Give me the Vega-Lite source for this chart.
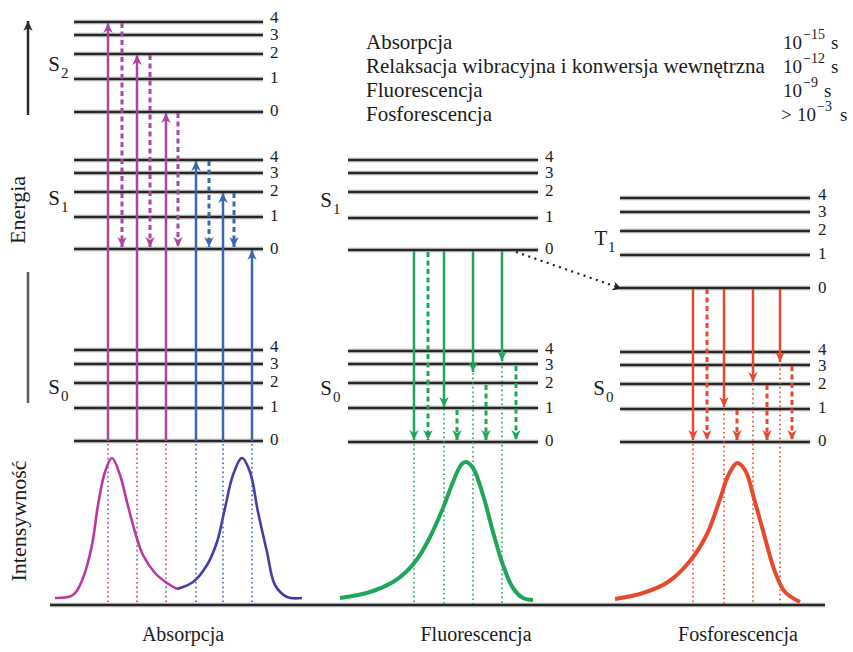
{
"$schema": "https://vega.github.io/schema/vega-lite/v6.json",
"width": 853, "height": 652,
"autosize": {"type": "fit", "contains": "padding"},
"padding": 0,
"background": "white",
"config": {"view": {"stroke": null}},
"datasets": {
"levels": [
{"x1":74,"x2":263,"y":22},{"x1":74,"x2":263,"y":35},{"x1":74,"x2":263,"y":54},{"x1":74,"x2":263,"y":79},{"x1":74,"x2":263,"y":112},
{"x1":74,"x2":263,"y":160},{"x1":74,"x2":263,"y":173},{"x1":74,"x2":263,"y":192},{"x1":74,"x2":263,"y":217},{"x1":74,"x2":263,"y":249},
{"x1":74,"x2":263,"y":350},{"x1":74,"x2":263,"y":364},{"x1":74,"x2":263,"y":383},{"x1":74,"x2":263,"y":408},{"x1":74,"x2":263,"y":441},
{"x1":348,"x2":538,"y":160},{"x1":348,"x2":538,"y":173},{"x1":348,"x2":538,"y":192},{"x1":348,"x2":538,"y":218},{"x1":348,"x2":538,"y":250},
{"x1":348,"x2":538,"y":351},{"x1":348,"x2":538,"y":364},{"x1":348,"x2":538,"y":383},{"x1":348,"x2":538,"y":408},{"x1":348,"x2":538,"y":442},
{"x1":620,"x2":810,"y":198},{"x1":620,"x2":810,"y":212},{"x1":620,"x2":810,"y":231},{"x1":620,"x2":810,"y":255},{"x1":620,"x2":810,"y":288},
{"x1":620,"x2":810,"y":352},{"x1":620,"x2":810,"y":365},{"x1":620,"x2":810,"y":384},{"x1":620,"x2":810,"y":409},{"x1":620,"x2":810,"y":442},
{"x1":50,"x2":825,"y":605}
],
"levelnums": [
{"x":270,"y":18,"t":"4"},{"x":270,"y":35,"t":"3"},{"x":270,"y":53,"t":"2"},{"x":270,"y":78,"t":"1"},{"x":270,"y":111,"t":"0"},
{"x":270,"y":157,"t":"4"},{"x":270,"y":173,"t":"3"},{"x":270,"y":191,"t":"2"},{"x":270,"y":216,"t":"1"},{"x":270,"y":249,"t":"0"},
{"x":270,"y":347,"t":"4"},{"x":270,"y":364,"t":"3"},{"x":270,"y":382,"t":"2"},{"x":270,"y":407,"t":"1"},{"x":270,"y":440,"t":"0"},
{"x":545,"y":157,"t":"4"},{"x":545,"y":173,"t":"3"},{"x":545,"y":191,"t":"2"},{"x":545,"y":217,"t":"1"},{"x":545,"y":249,"t":"0"},
{"x":545,"y":349,"t":"4"},{"x":545,"y":365,"t":"3"},{"x":545,"y":383,"t":"2"},{"x":545,"y":408,"t":"1"},{"x":545,"y":441,"t":"0"},
{"x":818,"y":195,"t":"4"},{"x":818,"y":212,"t":"3"},{"x":818,"y":230,"t":"2"},{"x":818,"y":254,"t":"1"},{"x":818,"y":288,"t":"0"},
{"x":818,"y":350,"t":"4"},{"x":818,"y":366,"t":"3"},{"x":818,"y":384,"t":"2"},{"x":818,"y":408,"t":"1"},{"x":818,"y":441,"t":"0"}
],
"arrows": [
{"x":28,"y1":115,"y2":21,"s":"dark","st":"solid","dir":"up"},
{"x":28,"y1":403,"y2":272,"s":"gray","st":"line","dir":"none"},
{"x":108,"y1":441,"y2":23,"s":"mag","st":"solid","dir":"up"},
{"x":137,"y1":441,"y2":55,"s":"mag","st":"solid","dir":"up"},
{"x":166,"y1":441,"y2":113,"s":"mag","st":"solid","dir":"up"},
{"x":122,"y1":23,"y2":247,"s":"mag","st":"dashed","dir":"down"},
{"x":150,"y1":55,"y2":247,"s":"mag","st":"dashed","dir":"down"},
{"x":178,"y1":113,"y2":247,"s":"mag","st":"dashed","dir":"down"},
{"x":196,"y1":441,"y2":161,"s":"blue","st":"solid","dir":"up"},
{"x":223,"y1":441,"y2":193,"s":"blue","st":"solid","dir":"up"},
{"x":252,"y1":441,"y2":250,"s":"blue","st":"solid","dir":"up"},
{"x":209,"y1":161,"y2":247,"s":"blue","st":"dashed","dir":"down"},
{"x":234,"y1":193,"y2":247,"s":"blue","st":"dashed","dir":"down"},
{"x":108,"y1":444,"y2":604,"s":"mag","st":"dotted","dir":"none"},
{"x":137,"y1":444,"y2":604,"s":"mag","st":"dotted","dir":"none"},
{"x":166,"y1":444,"y2":604,"s":"mag","st":"dotted","dir":"none"},
{"x":196,"y1":444,"y2":604,"s":"blue","st":"dotted","dir":"none"},
{"x":223,"y1":444,"y2":604,"s":"blue","st":"dotted","dir":"none"},
{"x":252,"y1":444,"y2":604,"s":"blue","st":"dotted","dir":"none"},
{"x":414,"y1":251,"y2":440,"s":"green","st":"solid","dir":"down"},
{"x":444,"y1":251,"y2":407,"s":"green","st":"solid","dir":"down"},
{"x":473,"y1":251,"y2":372,"s":"green","st":"solid","dir":"down"},
{"x":502,"y1":251,"y2":361,"s":"green","st":"solid","dir":"down"},
{"x":428,"y1":252,"y2":440,"s":"green","st":"dashed","dir":"down"},
{"x":457,"y1":410,"y2":440,"s":"green","st":"dashed","dir":"down"},
{"x":486,"y1":385,"y2":440,"s":"green","st":"dashed","dir":"down"},
{"x":516,"y1":366,"y2":440,"s":"green","st":"dashed","dir":"down"},
{"x":414,"y1":444,"y2":604,"s":"green","st":"dotted","dir":"none"},
{"x":444,"y1":409,"y2":604,"s":"green","st":"dotted","dir":"none"},
{"x":473,"y1":373,"y2":604,"s":"green","st":"dotted","dir":"none"},
{"x":502,"y1":362,"y2":604,"s":"green","st":"dotted","dir":"none"},
{"x":693,"y1":289,"y2":440,"s":"red","st":"solid","dir":"down"},
{"x":724,"y1":289,"y2":407,"s":"red","st":"solid","dir":"down"},
{"x":753,"y1":289,"y2":382,"s":"red","st":"solid","dir":"down"},
{"x":780,"y1":289,"y2":362,"s":"red","st":"solid","dir":"down"},
{"x":707,"y1":289,"y2":440,"s":"red","st":"dashed","dir":"down"},
{"x":737,"y1":410,"y2":440,"s":"red","st":"dashed","dir":"down"},
{"x":767,"y1":385,"y2":440,"s":"red","st":"dashed","dir":"down"},
{"x":792,"y1":366,"y2":440,"s":"red","st":"dashed","dir":"down"},
{"x":693,"y1":444,"y2":604,"s":"red","st":"dotted","dir":"none"},
{"x":724,"y1":409,"y2":604,"s":"red","st":"dotted","dir":"none"},
{"x":753,"y1":384,"y2":604,"s":"red","st":"dotted","dir":"none"},
{"x":780,"y1":364,"y2":604,"s":"red","st":"dotted","dir":"none"}
],
"isc": [{"x":516,"y":252,"x2":617,"y2":287}],
"iscHead": [{"x":622,"y":289}],
"curves": [
{"x":55,"y":598,"s":"magc"},{"x":73,"y":595,"s":"magc"},{"x":83,"y":578,"s":"magc"},{"x":92,"y":545,"s":"magc"},{"x":98,"y":505,"s":"magc"},{"x":105,"y":472,"s":"magc"},{"x":112,"y":458,"s":"magc"},{"x":120,"y":475,"s":"magc"},{"x":127,"y":502,"s":"magc"},{"x":135,"y":532,"s":"magc"},{"x":143,"y":555,"s":"magc"},{"x":155,"y":573,"s":"magc"},{"x":167,"y":583,"s":"magc"},{"x":177,"y":589,"s":"magc"},
{"x":177,"y":589,"s":"bluec"},{"x":193,"y":582,"s":"bluec"},{"x":207,"y":565,"s":"bluec"},{"x":217,"y":542,"s":"bluec"},{"x":225,"y":508,"s":"bluec"},{"x":233,"y":475,"s":"bluec"},{"x":242,"y":458,"s":"bluec"},{"x":250,"y":472,"s":"bluec"},{"x":258,"y":512,"s":"bluec"},{"x":267,"y":552,"s":"bluec"},{"x":275,"y":585,"s":"bluec"},{"x":287,"y":597,"s":"bluec"},{"x":302,"y":598,"s":"bluec"},
{"x":340,"y":598,"s":"green"},{"x":370,"y":592,"s":"green"},{"x":393,"y":582,"s":"green"},{"x":406,"y":572,"s":"green"},{"x":418,"y":558,"s":"green"},{"x":430,"y":537,"s":"green"},{"x":443,"y":508,"s":"green"},{"x":453,"y":482,"s":"green"},{"x":461,"y":465,"s":"green"},{"x":466,"y":462,"s":"green"},{"x":473,"y":468,"s":"green"},{"x":483,"y":495,"s":"green"},{"x":493,"y":532,"s":"green"},{"x":503,"y":565,"s":"green"},{"x":513,"y":588,"s":"green"},{"x":523,"y":598,"s":"green"},{"x":533,"y":600,"s":"green"},
{"x":615,"y":599,"s":"red"},{"x":643,"y":593,"s":"red"},{"x":668,"y":582,"s":"red"},{"x":690,"y":561,"s":"red"},{"x":707,"y":534,"s":"red"},{"x":720,"y":499,"s":"red"},{"x":728,"y":476,"s":"red"},{"x":737,"y":463,"s":"red"},{"x":745,"y":470,"s":"red"},{"x":755,"y":502,"s":"red"},{"x":765,"y":538,"s":"red"},{"x":775,"y":572,"s":"red"},{"x":785,"y":592,"s":"red"},{"x":800,"y":602,"s":"red"}
],
"legend": [
{"x":366,"y":43,"t":"Absorpcja"},{"x":366,"y":67,"t":"Relaksacja wibracyjna i konwersja wewnętrzna"},{"x":366,"y":91,"t":"Fluorescencja"},{"x":366,"y":115,"t":"Fosforescencja"}
],
"times": [
{"x":783,"y":43,"t":"10"},{"x":831,"y":43,"t":"s"},{"x":783,"y":67,"t":"10"},{"x":831,"y":67,"t":"s"},{"x":783,"y":91,"t":"10"},{"x":824,"y":91,"t":"s"},{"x":781,"y":115,"t":">"},{"x":797,"y":115,"t":"10"},{"x":840,"y":115,"t":"s"}
],
"sup": [{"x":803,"y":35,"t":"−15"},{"x":803,"y":59,"t":"−12"},{"x":803,"y":83,"t":"−9"},{"x":817,"y":107,"t":"−3"}],
"titles": [{"x":183,"y":635,"t":"Absorpcja"},{"x":476,"y":635,"t":"Fluorescencja"},{"x":738,"y":635,"t":"Fosforescencja"}],
"states": [{"x":54,"y":65,"t":"S"},{"x":54,"y":199,"t":"S"},{"x":54,"y":388,"t":"S"},{"x":326,"y":201,"t":"S"},{"x":326,"y":389,"t":"S"},{"x":601,"y":239,"t":"T"},{"x":599,"y":389,"t":"S"}],
"subs": [{"x":61,"y":73,"t":"2"},{"x":61,"y":207,"t":"1"},{"x":61,"y":396,"t":"0"},{"x":333,"y":209,"t":"1"},{"x":333,"y":397,"t":"0"},{"x":608,"y":247,"t":"1"},{"x":606,"y":397,"t":"0"}],
"vert": [{"x":18,"y":210,"t":"Energia"},{"x":19,"y":521,"t":"Intensywność"}]
},
"layer": [
{"data":{"name":"levels"},"mark":{"type":"rule","stroke":"#a8a8a8","strokeWidth":4.5},
 "encoding":{"x":{"field":"x1","type":"quantitative","scale":{"domain":[0,853],"nice":false,"zero":false},"axis":null},"x2":{"field":"x2"},
 "y":{"field":"y","type":"quantitative","scale":{"domain":[0,652],"nice":false,"zero":false,"reverse":true},"axis":null}}},
{"data":{"name":"levels"},"mark":{"type":"rule","stroke":"#262626","strokeWidth":2},
 "encoding":{"x":{"field":"x1","type":"quantitative"},"x2":{"field":"x2"},"y":{"field":"y","type":"quantitative"}}},
{"data":{"name":"curves"},"transform":[{"filter":"datum.s === 'magc' || datum.s === 'bluec'"}],
 "mark":{"type":"line","interpolate":"catmull-rom","strokeWidth":2.6},
 "encoding":{"x":{"field":"x","type":"quantitative"},"y":{"field":"y","type":"quantitative"},
 "color":{"field":"s","type":"nominal","scale":{"domain":["mag","blue","green","red","dark","gray","magc","bluec"],"range":["#a8479b","#3b67b1","#1fa65b","#e6492d","#2b2b2b","#5a5a5a","#bb36a2","#4a3aa3"]},"legend":null}}},
{"data":{"name":"curves"},"transform":[{"filter":"datum.s === 'green' || datum.s === 'red'"}],
 "mark":{"type":"line","interpolate":"catmull-rom","strokeWidth":4},
 "encoding":{"x":{"field":"x","type":"quantitative"},"y":{"field":"y","type":"quantitative"},"color":{"field":"s","type":"nominal","legend":null}}},
{"data":{"name":"arrows"},"transform":[{"filter":"datum.st === 'dotted'"}],
 "mark":{"type":"rule","strokeWidth":1.6,"strokeDash":[1.6,3]},
 "encoding":{"x":{"field":"x","type":"quantitative"},"y":{"field":"y1","type":"quantitative"},"y2":{"field":"y2"},"color":{"field":"s","type":"nominal","legend":null}}},
{"data":{"name":"arrows"},"transform":[{"filter":"datum.st === 'dashed'"}],
 "mark":{"type":"rule","strokeWidth":3,"strokeDash":[5,3.5]},
 "encoding":{"x":{"field":"x","type":"quantitative"},"y":{"field":"y1","type":"quantitative"},"y2":{"field":"y2"},"color":{"field":"s","type":"nominal","legend":null}}},
{"data":{"name":"arrows"},"transform":[{"filter":"datum.st === 'solid' || datum.st === 'line'"}],
 "mark":{"type":"rule","strokeWidth":2.5},
 "encoding":{"x":{"field":"x","type":"quantitative"},"y":{"field":"y1","type":"quantitative"},"y2":{"field":"y2"},"color":{"field":"s","type":"nominal","legend":null}}},
{"data":{"name":"arrows"},"transform":[{"filter":"datum.dir !== 'none'"}],
 "mark":{"type":"point","filled":true,"opacity":1,"size":110,"strokeWidth":0},
 "encoding":{"x":{"field":"x","type":"quantitative"},"y":{"field":"y2","type":"quantitative"},"color":{"field":"s","type":"nominal","legend":null},
 "shape":{"field":"dir","type":"nominal","scale":{"domain":["up","down"],"range":["M0,0L0.9,1.9L0,1.35L-0.9,1.9Z","M0,0L0.9,-1.9L0,-1.35L-0.9,-1.9Z"]},"legend":null}}},
{"data":{"name":"isc"},"mark":{"type":"rule","stroke":"#222222","strokeWidth":2.2,"strokeDash":[2,4.5]},
 "encoding":{"x":{"field":"x","type":"quantitative"},"y":{"field":"y","type":"quantitative"},"x2":{"field":"x2"},"y2":{"field":"y2"}}},
{"data":{"name":"iscHead"},"mark":{"type":"point","filled":true,"opacity":1,"size":100,"strokeWidth":0,"fill":"#222222","angle":19,"shape":"M0,0L-1.9,-0.9L-1.35,0L-1.9,0.9Z"},
 "encoding":{"x":{"field":"x","type":"quantitative"},"y":{"field":"y","type":"quantitative"}}},
{"data":{"name":"levelnums"},"mark":{"type":"text","font":"Liberation Serif","fontSize":17,"align":"left","baseline":"middle","fill":"#1a1a1a"},
 "encoding":{"x":{"field":"x","type":"quantitative"},"y":{"field":"y","type":"quantitative"},"text":{"field":"t"}}},
{"data":{"name":"legend"},"mark":{"type":"text","font":"Liberation Serif","fontSize":21,"align":"left","baseline":"middle","fill":"#1a1a1a"},
 "encoding":{"x":{"field":"x","type":"quantitative"},"y":{"field":"y","type":"quantitative"},"text":{"field":"t"}}},
{"data":{"name":"times"},"mark":{"type":"text","font":"Liberation Serif","fontSize":19,"align":"left","baseline":"middle","fill":"#1a1a1a"},
 "encoding":{"x":{"field":"x","type":"quantitative"},"y":{"field":"y","type":"quantitative"},"text":{"field":"t"}}},
{"data":{"name":"sup"},"mark":{"type":"text","font":"Liberation Serif","fontSize":14,"align":"left","baseline":"middle","fill":"#1a1a1a"},
 "encoding":{"x":{"field":"x","type":"quantitative"},"y":{"field":"y","type":"quantitative"},"text":{"field":"t"}}},
{"data":{"name":"titles"},"mark":{"type":"text","font":"Liberation Serif","fontSize":20,"align":"center","baseline":"middle","fill":"#1a1a1a"},
 "encoding":{"x":{"field":"x","type":"quantitative"},"y":{"field":"y","type":"quantitative"},"text":{"field":"t"}}},
{"data":{"name":"states"},"mark":{"type":"text","font":"Liberation Serif","fontSize":21,"align":"center","baseline":"middle","fill":"#1a1a1a"},
 "encoding":{"x":{"field":"x","type":"quantitative"},"y":{"field":"y","type":"quantitative"},"text":{"field":"t"}}},
{"data":{"name":"subs"},"mark":{"type":"text","font":"Liberation Serif","fontSize":15,"align":"left","baseline":"middle","fill":"#1a1a1a"},
 "encoding":{"x":{"field":"x","type":"quantitative"},"y":{"field":"y","type":"quantitative"},"text":{"field":"t"}}},
{"data":{"name":"vert"},"mark":{"type":"text","font":"Liberation Serif","fontSize":22,"align":"center","baseline":"middle","angle":270,"fill":"#1a1a1a"},
 "encoding":{"x":{"field":"x","type":"quantitative"},"y":{"field":"y","type":"quantitative"},"text":{"field":"t"}}}
]
}
